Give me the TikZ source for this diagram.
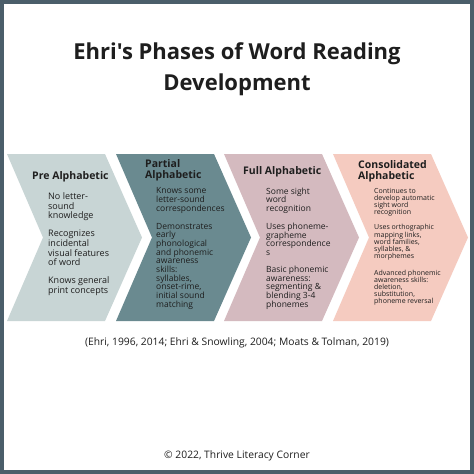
\documentclass[tikz,border=0pt]{standalone}
\usepackage{fontspec}
\setmainfont{Open Sans}[Ligatures=TeXOff]
\usetikzlibrary{positioning}
\definecolor{framec}{HTML}{4B5E6A}
\definecolor{preC}{HTML}{C8D5D5}
\definecolor{partC}{HTML}{6A8A90}
\definecolor{fullC}{HTML}{D4BABF}
\definecolor{consC}{HTML}{F5CBC0}
\definecolor{inkC}{HTML}{1E1E1E}
\tikzset{head/.style={anchor=north west,inner sep=0pt,align=left,text=inkC,font=\bfseries\fontsize{10.5}{11}\selectfont}}
\tikzset{txt/.style={anchor=north west,inner sep=0pt,align=left,text=inkC}}
\tikzset{note/.style={anchor=center,inner sep=0pt,text=inkC,font=\fontsize{10.3}{11}\selectfont}}

\begin{document}
\begin{tikzpicture}[x=1pt,y=-1pt]
        \useasboundingbox (0,0) rectangle (474,474);
        \fill[white] (0,0) rectangle (474,474);
        \draw[framec, line width=4pt] (2,2) rectangle (472,472);

        % the four phases
        \fill[preC] (7,154) -- (105,154) -- (142,237.5) -- (105,321) -- (7,321) -- (43,237.5) -- cycle;
        \fill[partC] (116,154) -- (214,154) -- (251,237.5) -- (214,321) -- (116,321) -- (152,237.5) -- cycle;
        \fill[fullC] (224,154) -- (322,154) -- (359,237.5) -- (322,321) -- (224,321) -- (260,237.5) -- cycle;
        \fill[consC] (333,154) -- (431,154) -- (468,237.5) -- (431,321) -- (333,321) -- (369,237.5) -- cycle;

        \node[anchor=north, inner sep=0pt, align=center, text=inkC, font=\bfseries\fontsize{22}{31}\selectfont] (title) at (237,42) {Ehri's Phases of Word Reading\\Development};

        \node[head] (preH) at (32,171.5) {Pre Alphabetic};
        \node[head] (partH) at (145,159.5) {Partial\\Alphabetic};
        \node[head] (fullH) at (243,166.5) {Full Alphabetic};
        \node[head] (consH) at (358,160.5) {Consolidated\\Alphabetic};

        \node[txt, font=\fontsize{9}{9.7}\selectfont] (preT) at (48,192.3) {No letter-\\sound\\knowledge\\[8.3pt]
          Recognizes\\incidental\\visual features\\of word\\[8.3pt]
          Knows general\\print concepts};
        \node[txt, font=\fontsize{8.5}{8.67}\selectfont] (partT) at (156,187.5) {Knows some\\letter-sound\\correspondences\\[9.4pt]
          Demonstrates\\early\\phonological\\and phonemic\\awareness\\skills:\\syllables,\\onset-rime,\\initial sound\\matching};
        \node[txt, font=\fontsize{8.5}{8.67}\selectfont] (fullT) at (266,187.5) {Some sight\\word\\recognition\\[9.4pt]
          Uses phoneme-\\grapheme\\correspondence\\s\\[8.3pt]
          Basic phonemic\\awareness:\\segmenting \&\\blending 3-4\\phonemes};
        \node[txt, font=\fontsize{7}{7.1}\selectfont] (consT) at (374,188.3) {Continues to\\develop automatic\\sight word\\recognition\\[7.9pt]
          Uses orthographic\\mapping links,\\word families,\\syllables, \&\\morphemes\\[9.9pt]
          Advanced phonemic\\awareness skills:\\deletion,\\substitution,\\phoneme reversal};

        \node[note] (cite) at (237,343) {(Ehri, 1996, 2014; Ehri \& Snowling, 2004; Moats \& Tolman, 2019)};
        \node[note] (copy) at (237,456) {© 2022, Thrive Literacy Corner};
    \end{tikzpicture}
\end{document}
